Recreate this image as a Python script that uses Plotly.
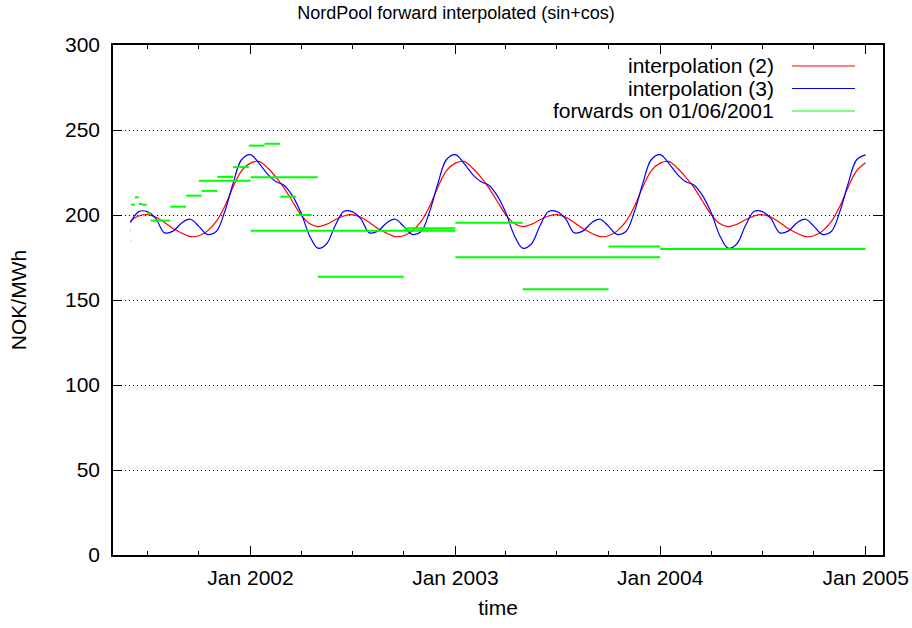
import plotly.graph_objects as go

# ---------------------------------------------------------------------------
# Data
# ---------------------------------------------------------------------------
# Sampling dates of the interpolated curves: 1st and 16th of every month,
# from 1 June 2001 up to 1 January 2005.
curve_dates = [
    f"{y}-{m:02d}-{d:02d}"
    for y in range(2001, 2005)
    for m in range(1, 13)
    for d in (1, 16)
    if (y, m) >= (2001, 6)
] + ["2005-01-01"]

# interpolation (2) -- NOK/MWh
interp2_2001 = [196.5, 199.4, 200.2, 198.8, 195.6, 192.0, 189.3, 187.3, 187.8, 190.5,
                196.2, 205.0, 216.5, 226.0]
interp2_2002 = [230.5, 231.5, 227.5, 222.0, 216.3, 208.4, 200.1, 195.0, 193.2, 194.5,
                197.2, 199.4, 200.2, 198.8, 195.6, 192.0, 189.3, 187.3, 187.8, 190.5,
                196.2, 205.0, 216.5, 226.0]
interp2_2003 = [230.5, 231.5, 227.5, 222.0, 216.3, 208.4, 200.1, 195.0, 193.2, 194.5,
                197.2, 199.4, 200.2, 198.8, 195.6, 192.0, 189.3, 187.3, 187.8, 190.5,
                196.2, 205.0, 216.5, 226.0]
interp2_2004 = [230.5, 231.5, 227.5, 222.0, 216.3, 208.4, 200.1, 195.0, 193.2, 194.5,
                197.2, 199.4, 200.2, 198.8, 195.6, 192.0, 189.3, 187.3, 187.8, 190.5,
                196.2, 205.0, 216.5, 226.0]
interp2_2005 = [230.7]

# interpolation (3) -- NOK/MWh
interp3_2001 = [195.5, 202.0, 202.0, 198.0, 189.5, 190.5, 195.5, 197.5, 193.3, 188.6,
                190.3, 201.9, 218.6, 232.5]
interp3_2002 = [235.5, 230.5, 223.8, 219.5, 217.7, 211.7, 201.3, 188.0, 180.5, 182.8,
                193.8, 202.0, 202.0, 198.0, 189.5, 190.5, 195.5, 197.5, 193.3, 188.6,
                190.3, 201.9, 218.6, 232.5]
interp3_2003 = [235.5, 230.5, 223.8, 219.5, 217.7, 211.7, 201.3, 188.0, 180.5, 182.8,
                193.8, 202.0, 202.0, 198.0, 189.5, 190.5, 195.5, 197.5, 193.3, 188.6,
                190.3, 201.9, 218.6, 232.5]
interp3_2004 = [235.5, 230.5, 223.8, 219.5, 217.7, 211.7, 201.3, 188.0, 180.5, 182.8,
                193.8, 202.0, 202.0, 198.0, 189.5, 190.5, 195.5, 197.5, 193.3, 188.6,
                190.3, 201.9, 218.6, 232.5]
interp3_2005 = [235.4]

interp2 = interp2_2001 + interp2_2002 + interp2_2003 + interp2_2004 + interp2_2005
interp3 = interp3_2001 + interp3_2002 + interp3_2003 + interp3_2004 + interp3_2005

# Forward contracts quoted on 01/06/2001: delivery start, delivery end, price
fwd_start = ["2001-06-01", "2001-06-02", "2001-06-02", "2001-06-09", "2001-06-16",
             "2001-06-23", "2001-06-30", "2001-07-07", "2001-08-11", "2001-09-08",
             "2001-10-06", "2001-11-03", "2001-12-01", "2001-12-29", "2002-01-26",
             "2002-02-23", "2002-03-23",
             "2001-10-01", "2002-01-01", "2002-05-01", "2002-10-01", "2003-01-01",
             "2003-05-01", "2003-10-01",
             "2002-01-01", "2003-01-01", "2004-01-01"]
fwd_end = ["2001-06-02", "2001-06-03", "2001-06-09", "2001-06-16", "2001-06-23",
           "2001-06-30", "2001-07-07", "2001-08-11", "2001-09-08", "2001-10-06",
           "2001-11-03", "2001-12-01", "2001-12-29", "2002-01-26", "2002-02-23",
           "2002-03-23", "2002-04-20",
           "2002-01-01", "2002-05-01", "2002-10-01", "2003-01-01", "2003-05-01",
           "2003-10-01", "2004-01-01",
           "2003-01-01", "2004-01-01", "2005-01-01"]
fwd_price = [191.0, 185.0, 206.1, 210.4, 206.5,
             206.0, 201.0, 196.7, 204.9, 211.4,
             214.2, 222.4, 228.2, 240.8, 241.9,
             210.8, 200.0,
             220.1, 222.2, 163.7, 192.2, 195.5,
             156.3, 181.4,
             190.7, 175.1, 180.0]

year_ticks = ["2002-01-01", "2003-01-01", "2004-01-01", "2005-01-01"]
year_labels = ["Jan 2002", "Jan 2003", "Jan 2004", "Jan 2005"]
price_ticks = [0, 50, 100, 150, 200, 250, 300]

series_names = ["interpolation (2)", "interpolation (3)", "forwards on 01/06/2001"]
series_colors = ["#ff0000", "#0000ff", "#00ff00"]

# ---------------------------------------------------------------------------
# Figure
# ---------------------------------------------------------------------------
fig = go.Figure()

fig.add_trace(go.Scatter(
    x=curve_dates, y=interp2, mode="lines", name=series_names[0],
    line=dict(color=series_colors[0], width=1.2, shape="spline", smoothing=1.0),
))
fig.add_trace(go.Scatter(
    x=curve_dates, y=interp3, mode="lines", name=series_names[1],
    line=dict(color=series_colors[1], width=1.2, shape="spline", smoothing=1.0),
))

# each forward is a horizontal segment over its delivery period
fx, fy = [], []
for s, e, p in zip(fwd_start, fwd_end, fwd_price):
    fx += [s, e, None]
    fy += [p, p, None]
fig.add_trace(go.Scatter(
    x=fx, y=fy, mode="lines", name=series_names[2],
    line=dict(color=series_colors[2], width=2),
))

FONT = "Liberation Sans, Arial, Helvetica, sans-serif"

fig.update_layout(
    width=912, height=628,
    margin=dict(l=113, r=29, t=45, b=73, autoexpand=False),
    plot_bgcolor="white", paper_bgcolor="white",
    font=dict(family=FONT, size=21, color="black"),
    showlegend=False,
    title=dict(
        text="NordPool forward interpolated (sin+cos)",
        x=0.5, xref="container", xanchor="center",
        y=1 - 13 / 628, yref="container", yanchor="middle",
        font=dict(family=FONT, size=18, color="black"),
    ),
)

fig.update_xaxes(
    type="date", range=["2001-05-01", "2005-02-01"], automargin=False,
    tickmode="array", tickvals=year_ticks, ticktext=year_labels,
    ticks="inside", ticklen=9, tickwidth=1.2, tickcolor="black",
    ticklabelstandoff=3,
    showline=True, linecolor="black", linewidth=1.5, mirror="ticks",
    showgrid=False, zeroline=False,
    minor=dict(dtick="M3", tick0="2001-01-01", ticks="inside", ticklen=4,
               tickwidth=1.2, tickcolor="black", showgrid=False),
    tickfont=dict(size=21),
    title=dict(text="time", standoff=12, font=dict(size=21)),
)
fig.update_yaxes(
    range=[0, 300], tickmode="array", tickvals=price_ticks, automargin=False,
    ticks="inside", ticklen=9, tickwidth=1.2, tickcolor="black",
    ticklabelstandoff=7,
    showline=True, linecolor="black", linewidth=1.5, mirror="ticks",
    showgrid=True, gridcolor="black", gridwidth=1, griddash="1px,3px",
    zeroline=False,
    tickfont=dict(size=21),
    title=dict(text="NOK/MWh", standoff=33, font=dict(size=21)),
)

# key in the upper right corner: right-aligned label followed by a line sample
def px_x(px):
    return (px - 113) / 770.0

def px_y(py):
    return (555 - py) / 510.0

key_rows = [66, 88.5, 111]
for name, color, row in zip(series_names, series_colors, key_rows):
    fig.add_annotation(
        x=px_x(776), y=px_y(row), xref="paper", yref="paper",
        text=name, showarrow=False, xanchor="right", yanchor="middle",
        font=dict(family=FONT, size=21, color="black"),
    )
    fig.add_shape(
        type="line", xref="paper", yref="paper",
        x0=px_x(792), x1=px_x(855), y0=px_y(row), y1=px_y(row),
        line=dict(color=color, width=1.2),
    )

fig.write_html("out.html")
